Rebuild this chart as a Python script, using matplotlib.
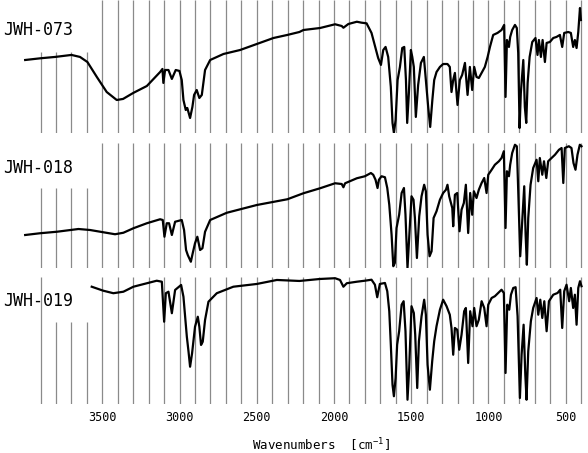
import matplotlib
matplotlib.use("Agg")
import matplotlib.pyplot as plt
import numpy as np

plt.rcParams['font.family'] = ['DejaVu Sans Mono']
plt.rcParams['mathtext.default'] = 'regular'

# --- data (wavenumber cm^-1, transmittance in arbitrary %) ---
names = ["JWH-073", "JWH-018", "JWH-019"]

wn_073 = [4000, 3900, 3806, 3700, 3645, 3597, 3536, 3472, 3407, 3366, 3300, 3212, 3126, 3111, 3105,
          3094, 3072, 3050, 3025, 3001, 2986, 2975, 2960, 2950, 2932, 2917, 2906, 2889, 2872, 2856,
          2835, 2802, 2716, 2608, 2500, 2392, 2302, 2224, 2198, 2090, 1993, 1950, 1939, 1907, 1852,
          1822, 1789, 1757, 1731, 1714, 1696, 1681, 1666, 1649, 1632, 1621, 1612, 1601, 1588, 1573,
          1558, 1545, 1534, 1526, 1515, 1502, 1493, 1483, 1470, 1455, 1437, 1418, 1405, 1390, 1377,
          1363, 1351, 1336, 1314, 1293, 1265, 1250, 1239, 1228, 1217, 1200, 1185, 1170, 1152, 1135,
          1120, 1105, 1092, 1077, 1062, 1044, 1023, 1005, 990, 969, 941, 915, 898, 889, 880,
          867, 859, 846, 828, 816, 807, 798, 790, 774, 764, 755, 746, 733, 716, 695,
          682, 673, 660, 649, 634, 623, 602, 580, 559, 537, 522, 509, 483, 466, 451,
          440, 429, 418, 407, 401]
t_073 = [55, 56.3, 57.3, 58.8, 57.3, 53.5, 42.3, 31, 25, 25.8, 30.3, 35.5, 46, 48.3, 37.8,
         47.5, 47.5, 40.8, 47.5, 46.8, 40, 25, 17.5, 19, 11.5, 19.8, 28.8, 32.5, 26.5, 28.8,
         47.5, 55, 59.5, 62.5, 67, 71.5, 73.8, 76, 77.5, 79, 81.8, 80.5, 79.2, 82, 83.7,
         83, 82.5, 75.3, 64, 56.5, 51.3, 62.5, 64.8, 57.3, 34.8, 7.8, 0.3, 10, 40, 49.8,
         64, 64.8, 40, 7.8, 30.3, 62.5, 57.3, 49.8, 12.3, 36.3, 52.8, 57.3, 40, 19.8, 4.8,
         25, 40, 46, 49.8, 52, 52, 49.8, 31, 40, 45.3, 21.3, 40, 43.8, 52.8, 28.8,
         49.8, 32.5, 49.8, 42.3, 41.5, 45.3, 49.8, 57.3, 64.8, 73.8, 75.3, 77.5, 81.3, 27.3, 70,
         64.8, 72.3, 77.5, 81.3, 79, 60.3, 4, 30.3, 55, 19.8, 7.8, 37.8, 57.3, 68.5, 71.5,
         58.8, 70, 57.3, 70, 53.5, 67.8, 68.5, 71.5, 72.3, 73.8, 64.8, 75.3, 76, 75.3, 64.8,
         70, 64, 76, 94, 85]

wn_018 = [4000, 3904, 3795, 3655, 3580, 3515, 3418, 3364, 3299, 3212, 3126, 3109, 3098, 3083, 3068,
          3050, 3029, 2986, 2971, 2958, 2947, 2927, 2915, 2900, 2885, 2867, 2852, 2835, 2802, 2694,
          2500, 2302, 2198, 2090, 1993, 1950, 1939, 1928, 1852, 1800, 1761, 1746, 1731, 1718, 1709,
          1692, 1670, 1655, 1642, 1627, 1616, 1606, 1595, 1578, 1562, 1547, 1537, 1524, 1513, 1498,
          1485, 1476, 1463, 1448, 1433, 1416, 1405, 1394, 1381, 1368, 1355, 1336, 1314, 1293, 1275,
          1265, 1254, 1234, 1228, 1217, 1202, 1187, 1174, 1159, 1146, 1131, 1118, 1105, 1094, 1077,
          1062, 1044, 1027, 1012, 1001, 979, 958, 932, 915, 900, 889, 880, 867, 859, 846,
          828, 816, 807, 794, 781, 768, 759, 751, 742, 727, 710, 688, 677, 667, 651,
          640, 625, 613, 591, 569, 543, 526, 515, 505, 479, 462, 449, 436, 423, 408, 397]
t_018 = [26.4, 27.8, 29, 31.2, 30.4, 29, 27, 28.2, 31.8, 35.8, 39, 38.4, 25, 35.8, 35.8,
         26.4, 37, 38.4, 30.4, 14.4, 10.4, 5, 11.8, 19.8, 25, 14.4, 15.8, 29, 38.4, 44.2,
         50.4, 55, 59.8, 63.8, 67.8, 67.2, 64.6, 67.8, 71.8, 73.4, 76, 74.6, 70.6, 64, 70.6,
         73.4, 72.6, 64, 50.6, 26.6, 1.4, 4, 32, 42.6, 60, 64, 42.6, 0, 24, 57.4,
         54.6, 40, 8, 41.4, 57.4, 66.6, 61.4, 26.6, 9.4, 13.4, 40, 45.4, 54.6, 60, 62.6,
         66.6, 57.4, 48, 33.4, 58.6, 60, 29.4, 46.6, 52, 66.6, 28, 60, 42.6, 61.4, 56,
         62.6, 68, 72, 60, 74.6, 78.6, 82.6, 85.4, 88, 93.4, 32, 77.4, 73.4, 82.6, 92,
         98.6, 97.4, 62.6, 9.4, 37.4, 65.4, 26.6, 2.6, 40, 66.6, 80, 86.6, 69.4, 88, 74.6,
         85.4, 72, 85.4, 88, 90.6, 94.6, 96, 68, 96, 97.4, 96, 84, 78.6, 90.6, 98.6, 97.4]

wn_019 = [3569, 3494, 3429, 3364, 3299, 3212, 3148, 3115, 3100, 3089, 3072, 3050, 3029, 2990, 2975,
          2953, 2942, 2932, 2919, 2900, 2882, 2872, 2861, 2850, 2835, 2813, 2759, 2652, 2500, 2370,
          2224, 2090, 1993, 1961, 1939, 1917, 1852, 1800, 1757, 1735, 1720, 1703, 1670, 1655, 1642,
          1632, 1621, 1612, 1601, 1591, 1578, 1562, 1549, 1537, 1524, 1513, 1498, 1483, 1474, 1461,
          1450, 1433, 1416, 1405, 1394, 1379, 1364, 1351, 1336, 1314, 1293, 1271, 1250, 1239, 1228,
          1217, 1202, 1189, 1174, 1157, 1146, 1131, 1118, 1103, 1092, 1077, 1062, 1044, 1027, 1012,
          1001, 979, 958, 936, 915, 900, 889, 878, 865, 854, 839, 824, 811, 796, 785,
          772, 761, 753, 742, 725, 710, 688, 677, 664, 651, 638, 623, 608, 580, 552,
          535, 522, 509, 494, 477, 466, 451, 440, 429, 418, 407, 397]
t_019 = [92.2, 89, 87, 88.2, 92.2, 95, 97, 96.2, 64.2, 87, 88.2, 71, 89.6, 93.6, 84.2,
         52.2, 40.2, 28.2, 39, 60.2, 68.2, 60.2, 45.6, 48.2, 65.6, 80.2, 87, 92.2, 94.4, 97.6,
         96.8, 98.4, 99, 97.6, 92.2, 95, 96.2, 97, 97.8, 93.8, 83.8, 94.4, 95.2, 88.6, 72.6,
         45.8, 13.8, 4.6, 19.2, 45.8, 56.6, 77.8, 80.6, 56.6, 1.8, 27.2, 76.6, 71.2, 53.8, 11.2,
         48.6, 68.6, 81.8, 69.8, 29.8, 9.8, 32.6, 48.6, 60.6, 73.8, 81.8, 76.6, 69.8, 59.2, 37.8,
         59.2, 57.8, 41.8, 53.8, 72.6, 75.2, 31.2, 72.6, 60.6, 75.2, 60.6, 65.8, 80.6, 75.2, 60.6,
         77.8, 83.2, 84.6, 87.2, 89.8, 87.2, 23.2, 77.8, 73.8, 85.8, 91.2, 91.8, 68.6, 3.2, 37.8,
         61.8, 21.8, 1.8, 40.6, 64.6, 75.2, 83.2, 69.8, 81.8, 67.2, 80.6, 56.6, 80.6, 85.8, 87.2,
         89.8, 59.2, 88.6, 93.8, 80.6, 91.2, 75.2, 85.8, 61.8, 91.2, 96.6, 92.6]

tick_wn = [3500, 3000, 2500, 2000, 1500, 1000, 500]
grid_wn = list(range(3900, 399, -100))

spectra = [(wn_073, t_073), (wn_018, t_018), (wn_019, t_019)]

# panel placement (figure fractions) and y-limits
rects = [[0, 0.7064, 1, 0.2936], [0, 0.4084, 1, 0.2759], [0, 0.1082, 1, 0.2804]]
ylims = [(0.25, 100), (0, 100), (-1.6, 100)]
label_y = [77.5, 80, 80.8]
# where the label area cuts the grid lines on the left
cut_level = [61, 64, 64]
cut_from = [3600, 3600, 3600]
cut_to = [3900, 3900, 3800]

fig = plt.figure(figsize=(5.88, 4.53), dpi=100)

for i, (wn, t) in enumerate(spectra):
    ax = fig.add_axes(rects[i])
    ax.set_xlim(4163, 355)
    ax.set_ylim(*ylims[i])
    tops = [cut_level[i] if cut_from[i] <= g <= cut_to[i] else ylims[i][1] for g in grid_wn]
    ax.vlines(grid_wn, ylims[i][0], tops, color='#8a8a8a', linewidth=0.9, zorder=1)
    ax.plot(wn, t, color='black', linewidth=1.6, zorder=3, solid_joinstyle='round')
    ax.text(4140, label_y[i], names[i], fontsize=12, ha='left', va='center', zorder=4)
    for s in ax.spines.values():
        s.set_visible(False)
    ax.set_yticks([])
    if i < 2:
        ax.set_xticks([])
    else:
        ax.set_xticks(tick_wn)
        ax.tick_params(axis='x', length=0, pad=5, labelsize=8.5)

fig.text(0.546, 0.018, 'Wavenumbers  [cm$^{-1}$]', fontsize=9, ha='center', va='center')

fig.savefig('out.png', dpi=100)
